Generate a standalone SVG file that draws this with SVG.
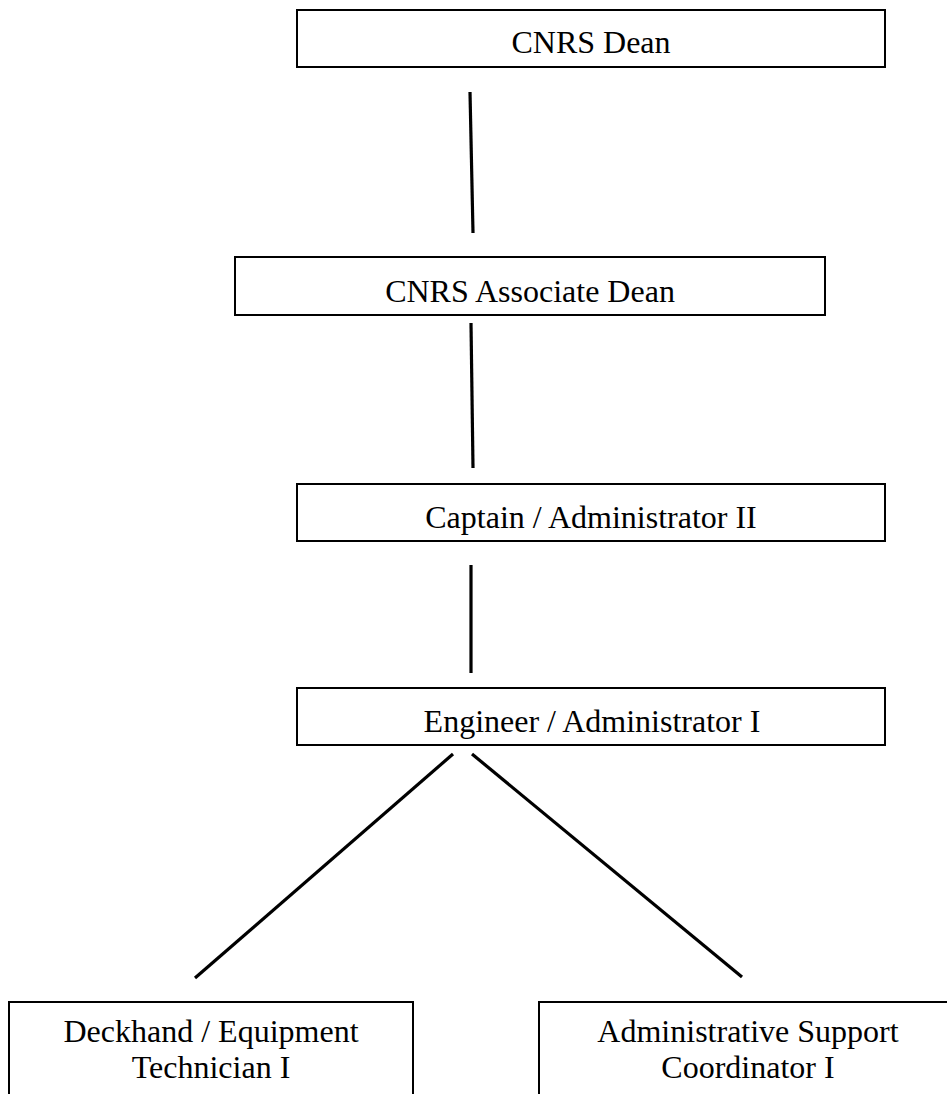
<svg xmlns="http://www.w3.org/2000/svg" width="947" height="1094" viewBox="0 0 947 1094">
<style>
.box{fill:#fff;stroke:#000;stroke-width:2}
.t{font-family:"Liberation Serif","Times New Roman",serif;font-size:32px;fill:#000;text-anchor:middle}
.c{stroke:#000;stroke-width:3.2;fill:none;stroke-linecap:butt}
</style>
<rect width="947" height="1094" fill="#fff"/>
<g id="connectors">
<line class="c" x1="470" y1="92" x2="473" y2="233"/>
<line class="c" x1="471" y1="323" x2="473" y2="468"/>
<line class="c" x1="471" y1="565" x2="471" y2="673"/>
<line class="c" x1="453" y1="754" x2="195" y2="978"/>
<line class="c" x1="472" y1="754" x2="742" y2="977"/>
</g>
<g id="n1"><rect class="box" x="297" y="10" width="588" height="57"/><text class="t" x="591" y="53">CNRS Dean</text></g>
<g id="n2"><rect class="box" x="235" y="257" width="590" height="58"/><text class="t" x="530" y="302">CNRS Associate Dean</text></g>
<g id="n3"><rect class="box" x="297" y="484" width="588" height="57"/><text class="t" x="591" y="528">Captain / Administrator II</text></g>
<g id="n4"><rect class="box" x="297" y="688" width="588" height="57"/><text class="t" x="592" y="732">Engineer / Administrator I</text></g>
<g id="n5"><rect class="box" x="9" y="1002" width="404" height="100"/><text class="t" x="211" y="1042">Deckhand / Equipment</text><text class="t" x="211" y="1078">Technician I</text></g>
<g id="n6"><rect class="box" x="539" y="1002" width="420" height="100"/><text class="t" x="748" y="1042">Administrative Support</text><text class="t" x="748" y="1078">Coordinator I</text></g>
</svg>
